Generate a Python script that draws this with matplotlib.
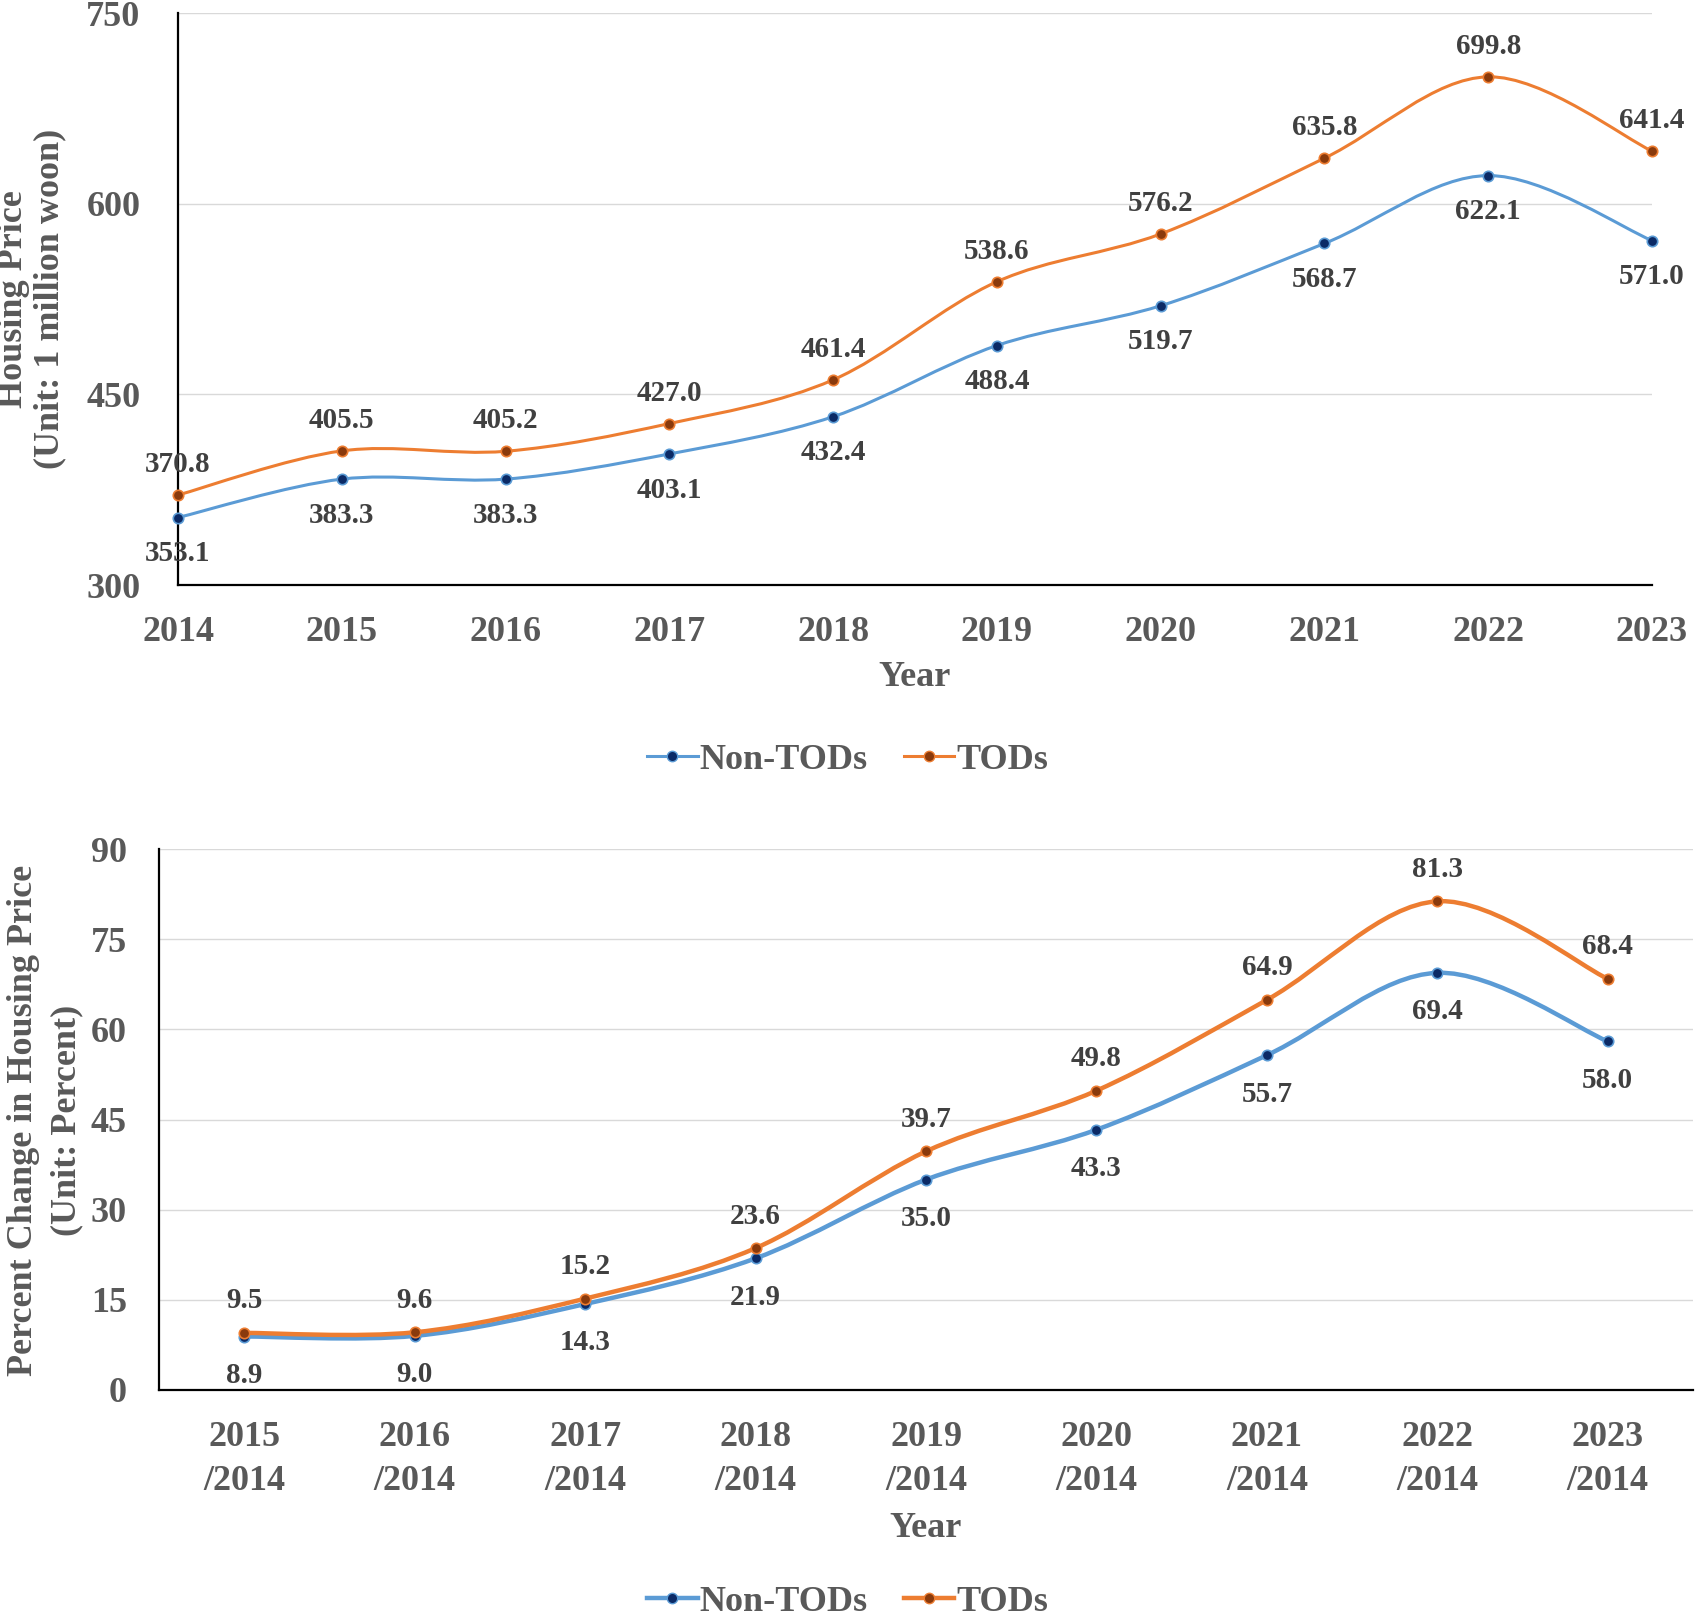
"""Housing price and percent change, TODs vs non-TODs, 2014-2023 (two stacked panels)."""

import matplotlib
matplotlib.use("Agg")
import matplotlib.pyplot as plt
import numpy as np
from matplotlib.lines import Line2D
from matplotlib.patches import PathPatch
from matplotlib.path import Path

plt.rcParams["font.family"] = ["Liberation Serif", "DejaVu Serif"]
plt.rcParams["font.weight"] = "bold"

# --------------------------------------------------------------------------- #
# Data
# --------------------------------------------------------------------------- #
YEARS = ["2014", "2015", "2016", "2017", "2018", "2019", "2020", "2021", "2022", "2023"]
NON_TOD_PRICE = [353.1, 383.3, 383.3, 403.1, 432.4, 488.4, 519.7, 568.7, 622.1, 571.0]
TOD_PRICE = [370.8, 405.5, 405.2, 427.0, 461.4, 538.6, 576.2, 635.8, 699.8, 641.4]

CHANGE_PERIODS = ["2015\n/2014", "2016\n/2014", "2017\n/2014", "2018\n/2014", "2019\n/2014",
                  "2020\n/2014", "2021\n/2014", "2022\n/2014", "2023\n/2014"]
NON_TOD_CHANGE = [8.9, 9.0, 14.3, 21.9, 35.0, 43.3, 55.7, 69.4, 58.0]
TOD_CHANGE = [9.5, 9.6, 15.2, 23.6, 39.7, 49.8, 64.9, 81.3, 68.4]

BLUE_LINE, BLUE_MARK = "#5B9BD5", "#0B2A66"
ORANGE_LINE, ORANGE_MARK = "#ED7D31", "#8A3A0C"
GREY = "#595959"
LABEL_GREY = "#404040"
GRID = "#D9D9D9"

W, H = 1695, 1623


def smooth_path(x, y):
    """Bezier path through the points (Excel-style smoothed line)."""
    pts = np.column_stack([x, y]).astype(float)
    n = len(pts)
    verts, codes = [pts[0]], [Path.MOVETO]
    for i in range(n - 1):
        p0, p1 = pts[max(i - 1, 0)], pts[i]
        p2, p3 = pts[i + 1], pts[min(i + 2, n - 1)]
        verts += [p1 + (p2 - p0) / 6, p2 - (p3 - p1) / 6, p2]
        codes += [Path.CURVE4] * 3
    return Path(verts, codes)


def draw_series(ax, values, line_color, mark_color, lw, label_offset):
    x = np.arange(len(values))
    ax.add_patch(PathPatch(smooth_path(x, values), fill=False, edgecolor=line_color,
                           lw=lw, capstyle="round", clip_on=False, zorder=3))
    ax.plot(x, values, ls="none", marker="o", ms=7.5, mfc=mark_color, mec=line_color,
            mew=1.2, clip_on=False, zorder=4)
    for xi, v in zip(x, values):
        ax.annotate(f"{v:.1f}", (xi, v), xytext=(0, label_offset), textcoords="offset points",
                    ha="center", va="center", fontsize=21, color=LABEL_GREY,
                    fontweight="bold", annotation_clip=False)


def style_axes(ax, ypad, xpad):
    for side in ("top", "right"):
        ax.spines[side].set_visible(False)
    for side in ("left", "bottom"):
        ax.spines[side].set_color("black")
        ax.spines[side].set_linewidth(1.6)
    ax.grid(axis="y", color=GRID, lw=1.0)
    ax.set_axisbelow(True)
    ax.tick_params(axis="both", length=0, labelsize=26, labelcolor=GREY)
    ax.tick_params(axis="y", pad=ypad)
    ax.tick_params(axis="x", pad=xpad)


def legend_handles(lw):
    return [
        Line2D([], [], color=BLUE_LINE, lw=lw, marker="o", ms=7.5, mfc=BLUE_MARK, mec=BLUE_LINE),
        Line2D([], [], color=ORANGE_LINE, lw=lw, marker="o", ms=7.5, mfc=ORANGE_MARK, mec=ORANGE_LINE),
    ]


fig = plt.figure(figsize=(W / 100, H / 100), dpi=100)

# --------------------------------------------------------------------------- #
# Panel 1 - housing price
# --------------------------------------------------------------------------- #
ax1 = fig.add_axes([178 / W, 1 - 585 / H, 1474 / W, 572 / H])
draw_series(ax1, NON_TOD_PRICE, BLUE_LINE, BLUE_MARK, 2.2, -26)
draw_series(ax1, TOD_PRICE, ORANGE_LINE, ORANGE_MARK, 2.2, 22)
ax1.set_xlim(0, len(YEARS) - 1)
ax1.set_ylim(300, 750)
ax1.set_yticks([300, 450, 600, 750])
ax1.set_xticks(range(len(YEARS)))
ax1.set_xticklabels(YEARS)
style_axes(ax1, ypad=27, xpad=22)
ax1.set_xlabel("Year", fontsize=26, color=GREY, fontweight="bold", labelpad=9)
fig.text(32 / W, 1 - 299 / H, "Housing Price\n(Unit: 1 million woon)", rotation=90,
         ha="center", va="center", multialignment="center", fontsize=26, color=GREY,
         fontweight="bold", linespacing=1.12)
fig.legend(legend_handles(2.2), ["Non-TODs", "TODs"], loc="center",
           bbox_to_anchor=(0.5, 1 - 760 / H), ncol=2, frameon=False, fontsize=26,
           labelcolor=GREY, handlelength=1.4, handletextpad=0.05, columnspacing=1.0)

# --------------------------------------------------------------------------- #
# Panel 2 - percent change vs 2014
# --------------------------------------------------------------------------- #
ax2 = fig.add_axes([159 / W, 1 - 1390 / H, 1534 / W, 541 / H])
draw_series(ax2, NON_TOD_CHANGE, BLUE_LINE, BLUE_MARK, 3.2, -28)
draw_series(ax2, TOD_CHANGE, ORANGE_LINE, ORANGE_MARK, 3.2, 23)
ax2.set_xlim(-0.5, len(CHANGE_PERIODS) - 0.5)
ax2.set_ylim(0, 90)
ax2.set_yticks(range(0, 91, 15))
ax2.set_xticks(range(len(CHANGE_PERIODS)))
ax2.set_xticklabels(CHANGE_PERIODS, linespacing=1.45)
style_axes(ax2, ypad=23, xpad=22)
ax2.set_xlabel("Year", fontsize=26, color=GREY, fontweight="bold", labelpad=10)
fig.text(45 / W, 1 - 1120 / H, "Percent Change in Housing Price\n(Unit: Percent)", rotation=90,
         ha="center", va="center", multialignment="center", fontsize=26, color=GREY,
         fontweight="bold", linespacing=1.4)
fig.legend(legend_handles(3.2), ["Non-TODs", "TODs"], loc="center",
           bbox_to_anchor=(0.5, 1 - 1602 / H), ncol=2, frameon=False, fontsize=26,
           labelcolor=GREY, handlelength=1.4, handletextpad=0.05, columnspacing=1.0)

fig.savefig("out.png", dpi=100)
